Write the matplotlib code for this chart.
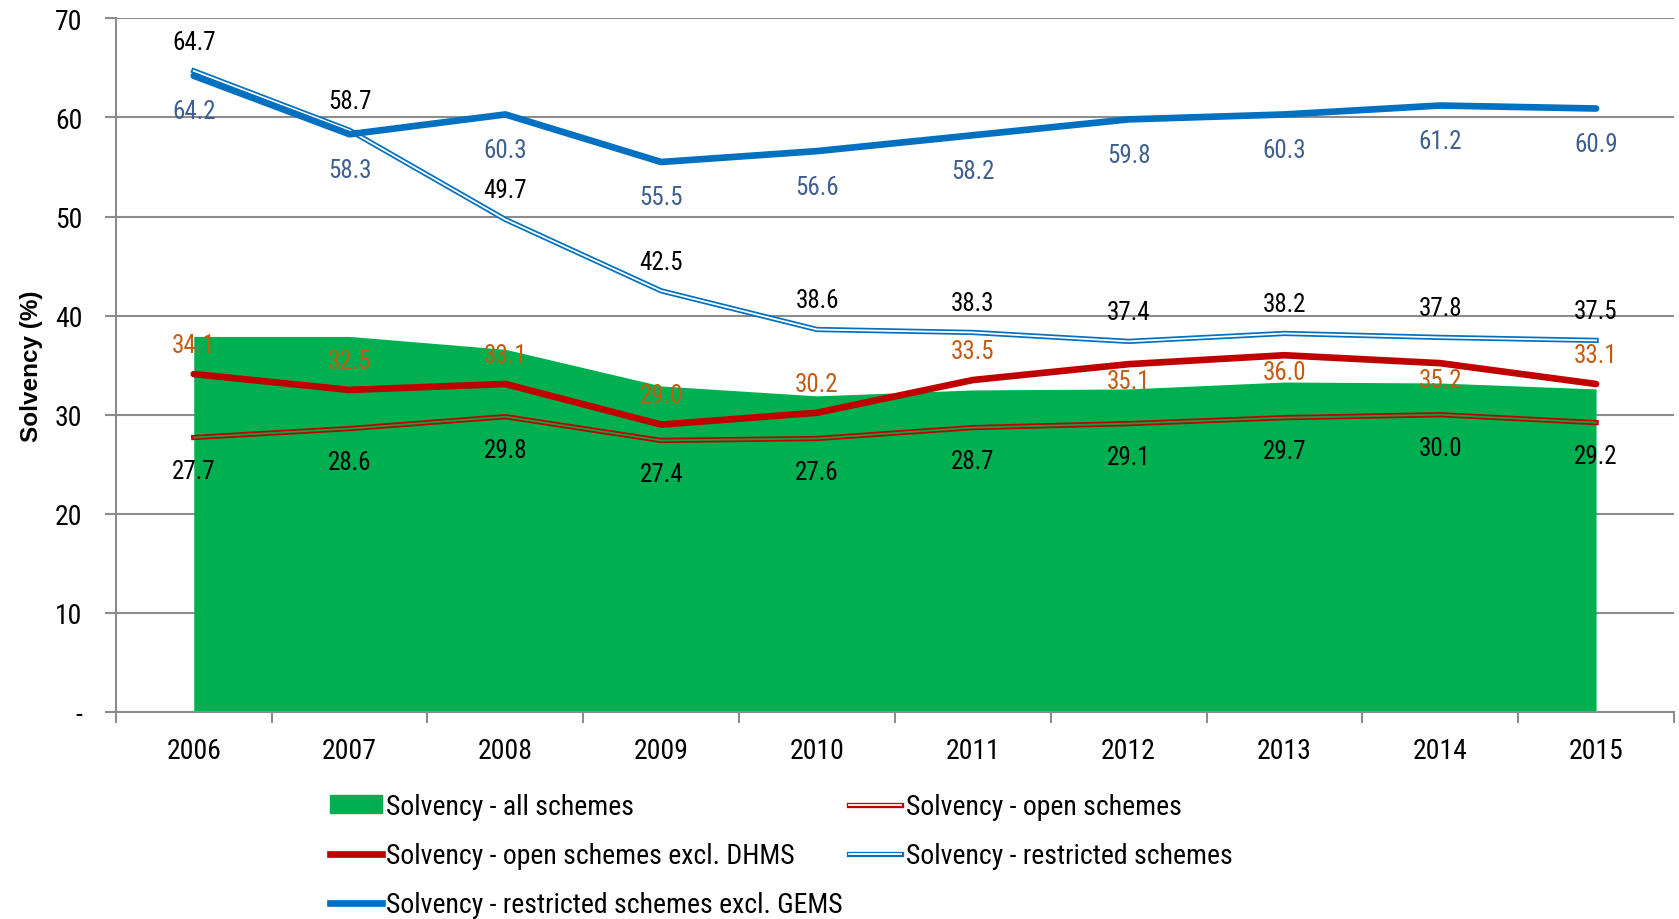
import matplotlib
matplotlib.use("Agg")
import matplotlib.pyplot as plt
import matplotlib.patheffects as pe
from matplotlib.lines import Line2D
from matplotlib.patches import Patch

# Data
years = ['2006', '2007', '2008', '2009', '2010', '2011', '2012', '2013', '2014', '2015']
all_schemes = [37.9, 37.9, 36.6, 32.9, 31.9, 32.5, 32.6, 33.3, 33.2, 32.6]
open_schemes = [27.7, 28.6, 29.8, 27.4, 27.6, 28.7, 29.1, 29.7, 30.0, 29.2]
open_excl_dhms = [34.1, 32.5, 33.1, 29.0, 30.2, 33.5, 35.1, 36.0, 35.2, 33.1]
restricted = [64.7, 58.7, 49.7, 42.5, 38.6, 38.3, 37.4, 38.2, 37.8, 37.5]
restricted_excl_gems = [64.2, 58.3, 60.3, 55.5, 56.6, 58.2, 59.8, 60.3, 61.2, 60.9]

# which side the orange labels sit on (1 above, -1 below)
dhms_label_side = [1, 1, 1, 1, 1, 1, -1, -1, -1, 1]

GREEN = '#00B050'
RED = '#C00000'
BLUE = '#0070C0'
ORANGE = '#C55A11'
SLATE = '#3F5F91'
GRID = '#8C8C8C'

plt.rcParams['font.family'] = ['Roboto Condensed', 'Liberation Sans', 'DejaVu Sans']

fig = plt.figure(figsize=(16.79, 9.2), dpi=100)
ax = fig.add_axes([0.069, 0.225, 0.928, 0.754])

x = list(range(len(years)))

ax.fill_between(x, 0, all_schemes, color=GREEN, lw=0, zorder=2)

# double lines: coloured outer stroke with a thin inner line
ax.plot(x, open_schemes, color='#10A040', lw=1.3, zorder=3,
        path_effects=[pe.Stroke(linewidth=3.8, foreground=RED), pe.Normal()])
ax.plot(x, restricted, color='white', lw=1.3, zorder=3,
        path_effects=[pe.Stroke(linewidth=3.8, foreground=BLUE), pe.Normal()])
ax.plot(x, open_excl_dhms, color=RED, lw=4.8, zorder=4, solid_capstyle='round')
ax.plot(x, restricted_excl_gems, color=BLUE, lw=4.8, zorder=4, solid_capstyle='round')

lab_fs = 18
for i in x:
    ax.annotate(f'{open_schemes[i]:.1f}', (i, open_schemes[i]), xytext=(0, -24),
                textcoords='offset points', ha='center', va='center', fontsize=lab_fs, color='black', zorder=6)
    ax.annotate(f'{restricted[i]:.1f}', (i, restricted[i]), xytext=(0, 21),
                textcoords='offset points', ha='center', va='center', fontsize=lab_fs, color='black', zorder=6)
    ax.annotate(f'{restricted_excl_gems[i]:.1f}', (i, restricted_excl_gems[i]), xytext=(0, -25.5),
                textcoords='offset points', ha='center', va='center', fontsize=lab_fs, color=SLATE, zorder=6)
    off = 21 if dhms_label_side[i] > 0 else -12
    ax.annotate(f'{open_excl_dhms[i]:.1f}', (i, open_excl_dhms[i]), xytext=(0, off),
                textcoords='offset points', ha='center', va='center', fontsize=lab_fs, color=ORANGE, zorder=6)

ax.set_xlim(-0.5, len(years) - 0.5)
ax.set_ylim(0, 70)
ax.set_yticks(range(0, 71, 10))
ax.set_yticklabels(['-'] + [str(v) for v in range(10, 71, 10)], fontsize=20)
ax.set_xticks(x)
ax.set_xticklabels(years, fontsize=20)
ax.set_xticks([i - 0.5 for i in range(len(years) + 1)], minor=True)
ax.tick_params(axis='x', which='major', length=0, pad=18)
ax.tick_params(axis='x', which='minor', length=8, width=1.5, color=GRID, direction='out')
ax.tick_params(axis='y', length=8, width=1.5, color=GRID, pad=16)

ax.grid(axis='y', color=GRID, lw=1.5, zorder=1)
ax.set_axisbelow(True)
for s in ['top', 'right']:
    ax.spines[s].set_visible(False)
for s in ['left', 'bottom']:
    ax.spines[s].set_color(GRID)
    ax.spines[s].set_linewidth(1.5)

ax.set_ylabel('Solvency (%)', fontsize=17.5, fontweight='bold', family='Liberation Sans')
ax.yaxis.set_label_coords(-0.047, 0.5)

handles = [
    Patch(color=GREEN),
    Line2D([], [], color=RED, lw=4.8),
    Line2D([], [], color=BLUE, lw=4.8),
    Line2D([], [], color='white', lw=1.3, path_effects=[pe.Stroke(linewidth=3.8, foreground=RED), pe.Normal()]),
    Line2D([], [], color='white', lw=1.3, path_effects=[pe.Stroke(linewidth=3.8, foreground=BLUE), pe.Normal()]),
]
labels = [
    'Solvency - all schemes',
    'Solvency - open schemes excl. DHMS',
    'Solvency - restricted schemes excl. GEMS',
    'Solvency - open schemes',
    'Solvency - restricted schemes',
]
fig.legend(handles, labels, ncol=2, loc='upper left', bbox_to_anchor=(0.188, 0.152),
           frameon=False, fontsize=20, handlelength=1.9, handleheight=0.6, handletextpad=0.15,
           columnspacing=0.2, labelspacing=0.8, borderpad=0)

fig.savefig('out.png', dpi=100)
